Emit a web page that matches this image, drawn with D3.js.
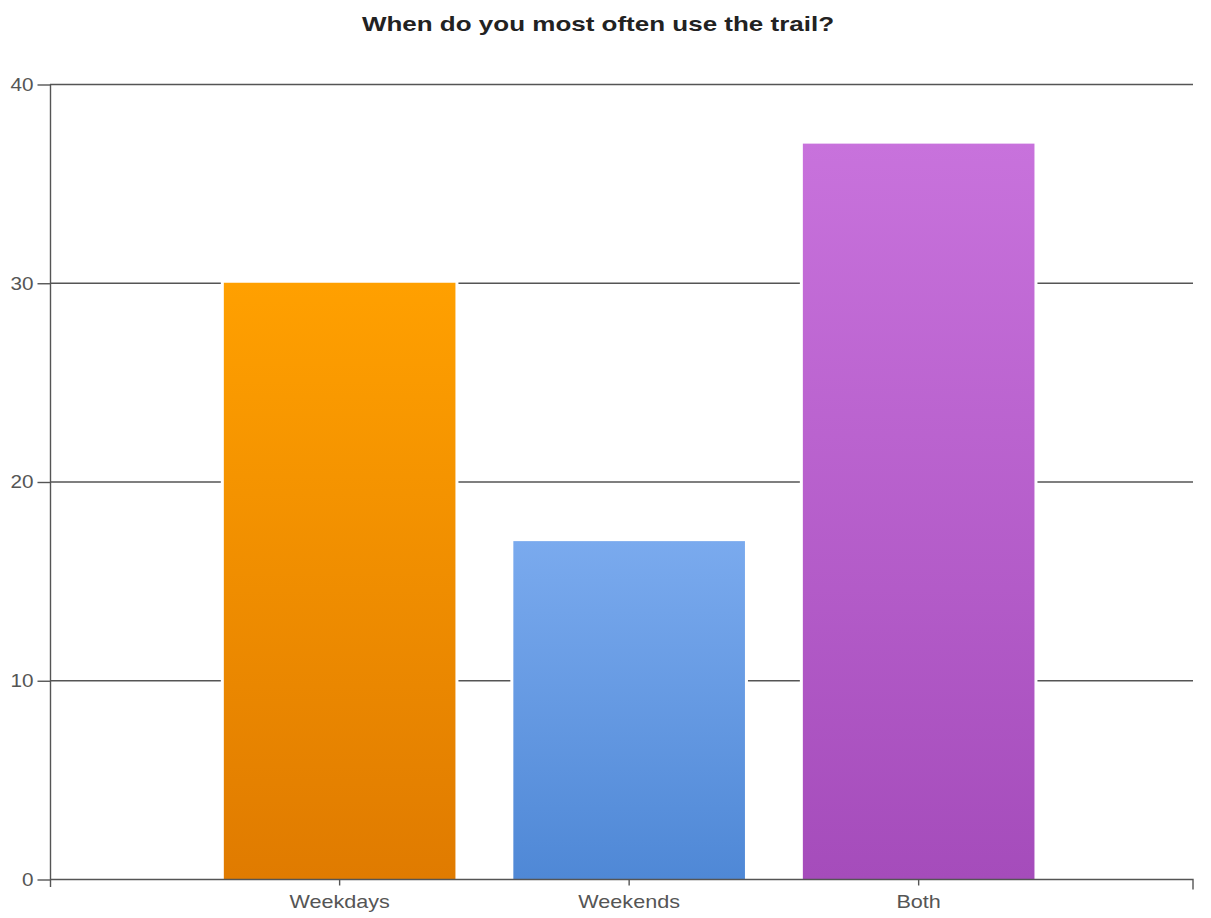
<!DOCTYPE html>
<html>
<head>
<meta charset="utf-8">
<script src="https://cdn.jsdelivr.net/npm/d3@7"></script>
<style>
html,body{margin:0;padding:0;background:#fff;}
svg{display:block;}
</style>
</head>
<body>
<svg id="chart" width="1211" height="918"></svg>
<script>
const categories = ["Weekdays", "Weekends", "Both"];
const values = [30, 17, 37];
const yTicks = [0, 10, 20, 30, 40];
const topColors = ["#FFA000", "#7AAAEE", "#C872DC"];
const bottomColors = ["#E07B00", "#4F88D6", "#A54CBB"];
const title = "When do you most often use the trail?";

const svg = d3.select("#chart");
const plotLeft = 50, plotRight = 1193, plotTop = 84, plotBottom = 879;
const fontFam = "Arial, 'Liberation Sans', sans-serif";

const x = d3.scaleBand().domain(categories).range([plotLeft, plotRight])
  .paddingInner(0.2).paddingOuter(0.574).align(0.523);
const y = d3.scaleLinear().domain([0, 40]).range([plotBottom, plotTop]);

const defs = svg.append("defs");
categories.forEach((c, i) => {
  const g = defs.append("linearGradient").attr("id", "g" + i)
    .attr("x1", 0).attr("y1", 0).attr("x2", 0).attr("y2", 1);
  g.append("stop").attr("offset", "0%").attr("stop-color", topColors[i]);
  g.append("stop").attr("offset", "100%").attr("stop-color", bottomColors[i]);
});

// title
svg.append("text").attr("transform", "translate(598,31) scale(1.3,1)")
  .attr("text-anchor", "middle")
  .attr("font-family", fontFam).attr("font-weight", "bold")
  .attr("font-size", 20).attr("fill", "#222").text(title);

// gridlines
svg.append("g").selectAll("line").data(yTicks.filter(d => d > 0)).join("line")
  .attr("x1", plotLeft).attr("x2", plotRight)
  .attr("y1", d => y(d) + 0.5).attr("y2", d => y(d) + 0.5)
  .attr("stroke", "#555").attr("stroke-width", 1.4);

// bars with white halo
const bars = svg.append("g");
bars.selectAll("rect.halo").data(values).join("rect").attr("class", "halo")
  .attr("x", (d, i) => x(categories[i]) - 3)
  .attr("width", x.bandwidth() + 6)
  .attr("y", d => y(d) - 3)
  .attr("height", d => y(0) - y(d) + 3)
  .attr("fill", "#fff");
bars.selectAll("rect.bar").data(values).join("rect").attr("class", "bar")
  .attr("x", (d, i) => x(categories[i]))
  .attr("width", x.bandwidth())
  .attr("y", d => y(d))
  .attr("height", d => y(0) - y(d))
  .attr("fill", (d, i) => `url(#g${i})`);

// y axis
const yAxis = svg.append("g").attr("transform", `translate(${plotLeft + 0.5},0)`)
  .call(d3.axisLeft(y).tickValues(yTicks).tickSize(13).tickPadding(5).tickFormat(d3.format("d")));
yAxis.select(".domain").attr("d", `M0,${plotTop}V${plotBottom + 8}`).attr("stroke", "#555").attr("stroke-width", 1.4);
yAxis.selectAll(".tick line").attr("stroke", "#555").attr("stroke-width", 1.4).attr("transform", "translate(0,0.5)");
yAxis.selectAll("text").attr("x", 0).attr("dy", "0.35em")
  .attr("transform", "translate(-17,0) scale(1.15,1)")
  .attr("font-family", fontFam).attr("font-size", 18).attr("fill", "#555");

// x axis
const xAxis = svg.append("g").attr("transform", `translate(0,${plotBottom + 0.5})`)
  .call(d3.axisBottom(x).tickSize(6).tickPadding(10).tickSizeOuter(0));
xAxis.select(".domain").attr("d", `M${plotLeft},0H${plotRight}V10`).attr("stroke", "#555").attr("stroke-width", 1.4).attr("fill", "none");
xAxis.selectAll(".tick line").attr("stroke", "#555").attr("stroke-width", 1.4);
xAxis.selectAll("text").attr("y", 0).attr("dy", "0.71em")
  .attr("transform", "translate(0,16) scale(1.2,1)")
  .attr("font-family", fontFam).attr("font-size", 18).attr("fill", "#555");
</script>
</body>
</html>
